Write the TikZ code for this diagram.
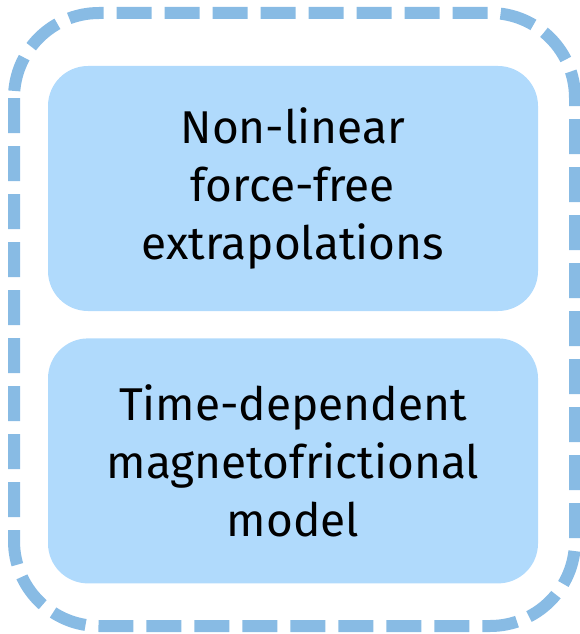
\documentclass[tikz,border=0pt]{standalone}
\usepackage{fontspec}
\setmainfont{Fira Sans}
\usepackage{tikz}
\usetikzlibrary{positioning}

\definecolor{boxfill}{RGB}{176,218,252}
\definecolor{framecol}{RGB}{136,187,228}

\begin{document}
\begin{tikzpicture}[x=1pt,y=-1pt,node distance=27pt,
    modelbox/.style={rectangle,fill=boxfill,rounded corners=40pt,
      minimum width=490pt,minimum height=245pt,align=center,
      font=\fontsize{46}{58}\selectfont},
    frame/.style={draw=framecol,line width=12pt,
      dash pattern=on 35pt off 13pt,rounded corners=85pt}]
  \useasboundingbox (0,0) rectangle (580,634);
  \draw[frame] (14,13) rectangle (575,626);
  \node[modelbox] (nlfff) at (293,188.5) {Non-linear\\force-free\\extrapolations};
  \node[modelbox,below=of nlfff] (mf) {Time-dependent\\magnetofrictional\\model};
\end{tikzpicture}
\end{document}
